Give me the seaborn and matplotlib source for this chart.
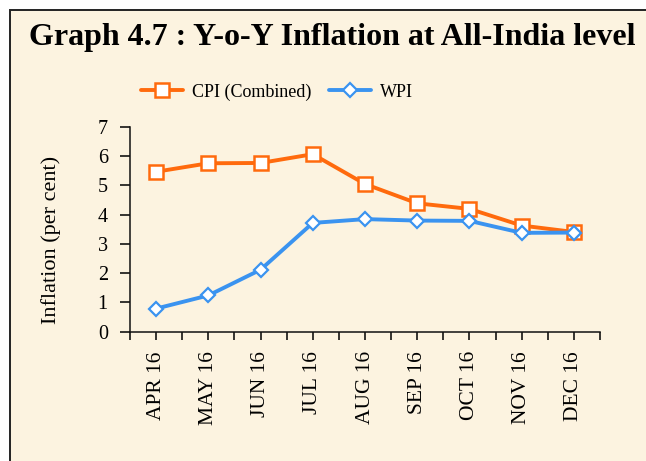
import numpy as np
import pandas as pd

import matplotlib
matplotlib.use("Agg")
import matplotlib.pyplot as plt
from matplotlib.patches import Rectangle
from matplotlib.ticker import MultipleLocator
import seaborn as sns

months = ["APR 16", "MAY 16", "JUN 16", "JUL 16", "AUG 16",
          "SEP 16", "OCT 16", "NOV 16", "DEC 16"]
cpi = [5.47, 5.76, 5.77, 6.07, 5.05, 4.39, 4.20, 3.63, 3.41]
wpi = [0.79, 1.24, 2.12, 3.72, 3.85, 3.80, 3.79, 3.38, 3.39]

df = pd.DataFrame({"month": months, "cpi": cpi, "wpi": wpi})

sns.set_style("ticks")
plt.rcParams["font.family"] = ["Liberation Serif", "DejaVu Serif"]
for k in ["text.color", "axes.labelcolor", "xtick.color", "ytick.color"]:
    plt.rcParams[k] = "black"

bg = "#fcf3e0"
orange = "#ff6a0d"
blue = "#3a93f0"

fig = plt.figure(figsize=(6.46, 4.61), dpi=100, facecolor="white")
# cream panel with dark border (right and bottom edges run off the picture)
fig.patches.append(Rectangle((10 / 646, -0.05), 1.2, 1 - 10 / 461 + 0.05,
                             transform=fig.transFigure, facecolor=bg,
                             edgecolor="#222222", linewidth=1.4, zorder=-5))

ax = fig.add_axes([130 / 646, 1 - 331.7 / 461, 470 / 646, (331.7 - 127) / 461])
ax.set_facecolor("none")

x = np.arange(len(months))
sns.lineplot(x=x, y=df["cpi"], ax=ax, color=orange, linewidth=2.8,
             marker="s", markersize=10, markerfacecolor="white",
             markeredgecolor=orange, markeredgewidth=1.8,
             label="CPI (Combined)")
sns.lineplot(x=x, y=df["wpi"], ax=ax, color=blue, linewidth=2.8,
             marker="D", markersize=7.5, markerfacecolor="white",
             markeredgecolor=blue, markeredgewidth=1.6, label="WPI")

ax.set_xlim(-0.5, len(months) - 0.5)
ax.set_ylim(0, 7)
ax.yaxis.set_major_locator(MultipleLocator(1))
ax.set_xticks(x)
ax.set_xticks(np.arange(-0.5, len(months), 1), minor=True)
ax.set_xticklabels(months, rotation=90, fontsize=15.5)
ax.tick_params(axis="y", labelsize=14.5, length=7, width=1.1, direction="out", pad=9)
ax.tick_params(axis="x", which="both", length=6, width=1.1, direction="out", pad=8)
ax.set_xlabel("")
ax.set_ylabel("Inflation (per cent)", fontsize=16)
ax.yaxis.set_label_coords(-0.147, 0.45)

sns.despine(ax=ax)
for s in ["left", "bottom"]:
    ax.spines[s].set_linewidth(1.1)
    ax.spines[s].set_color("#111111")

ax.legend(loc="center left", bbox_to_anchor=(141 / 646, 1 - 92 / 461),
          bbox_transform=fig.transFigure, ncol=2, frameon=False,
          fontsize=13, handlelength=2.3, handletextpad=0.5, columnspacing=1.0,
          borderaxespad=0, borderpad=0)

fig.text(332 / 646, 1 - 38 / 461, "Graph 4.7 : Y-o-Y Inflation at All-India level",
         ha="center", va="center", fontsize=23, fontweight="bold")

fig.savefig("out.png", dpi=100, facecolor="white")
